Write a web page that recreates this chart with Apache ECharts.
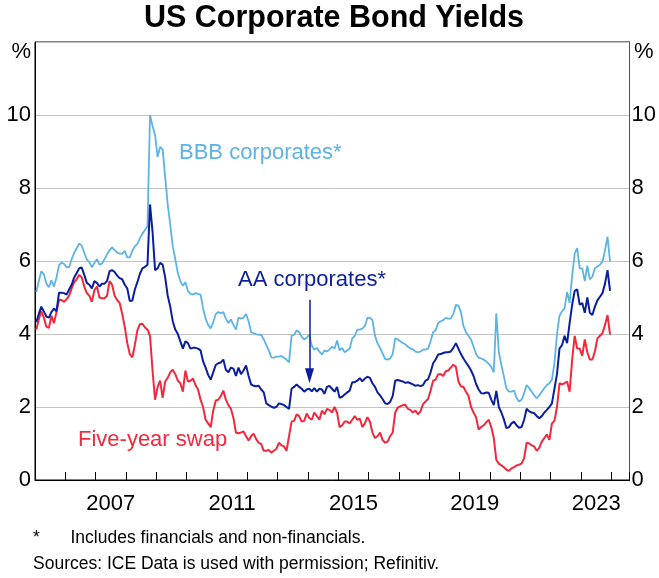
<!DOCTYPE html>
<html>
<head>
<meta charset="utf-8">
<script src="https://cdn.jsdelivr.net/npm/echarts@6/dist/echarts.min.js"></script>
<style>
html,body{margin:0;padding:0;background:#fff;}
#chart{width:659px;height:578px;}
</style>
</head>
<body>
<div id="chart"></div>
<script>
// Monthly data, Jan 2005 - Dec 2023 (per cent)
const startYear = 2005;
const bbbYields = [
 5.15,5.45,5.72,5.64,5.38,5.28,5.47,5.30,5.55,5.88,5.96,5.92,
 5.83,5.83,6.05,6.22,6.35,6.48,6.42,6.22,6.04,5.97,5.83,5.95,
 6.05,5.90,5.93,6.05,6.18,6.30,6.37,6.30,6.23,6.20,6.20,6.28,
 6.10,6.10,6.28,6.40,6.47,6.62,6.75,6.85,6.95,10.00,9.70,9.45,
 8.85,9.13,9.05,8.30,7.55,7.00,6.40,6.05,5.67,5.45,5.32,5.42,
 5.18,5.10,5.08,5.12,5.10,5.08,4.70,4.42,4.25,4.15,4.32,4.55,
 4.60,4.57,4.60,4.42,4.30,4.40,4.25,4.12,4.45,4.42,4.45,4.55,
 4.35,4.05,4.02,3.99,3.98,3.98,3.85,3.70,3.55,3.36,3.35,3.38,
 3.38,3.40,3.35,3.30,3.22,3.95,3.98,4.10,4.05,3.92,3.85,3.90,
 3.98,3.68,3.57,3.62,3.52,3.44,3.55,3.52,3.58,3.65,3.60,3.82,
 3.55,3.62,3.50,3.55,3.60,3.88,3.95,4.12,4.12,4.15,4.22,4.44,
 4.45,4.38,3.95,3.75,3.62,3.47,3.32,3.30,3.33,3.45,3.88,3.85,
 3.80,3.75,3.72,3.65,3.60,3.58,3.52,3.50,3.52,3.57,3.57,3.60,
 3.80,4.05,4.10,4.30,4.35,4.38,4.44,4.42,4.42,4.55,4.80,4.78,
 4.60,4.22,4.05,3.95,3.85,3.65,3.45,3.35,3.33,3.30,3.25,3.18,
 3.10,2.95,4.57,3.50,3.15,2.84,2.50,2.42,2.42,2.45,2.25,2.15,
 2.20,2.38,2.60,2.52,2.42,2.32,2.24,2.32,2.42,2.52,2.60,2.65,
 2.75,3.20,4.00,4.50,4.62,4.70,5.15,4.85,5.60,6.20,6.35,5.80,
 5.80,5.45,5.87,5.50,5.57,5.80,5.85,5.90,5.98,6.30,6.67,5.98
];
const aaYields = [
 4.32,4.55,4.75,4.62,4.48,4.45,4.60,4.70,4.62,5.13,5.13,5.12,
 5.08,5.22,5.35,5.55,5.67,5.80,5.82,5.62,5.40,5.35,5.25,5.45,
 5.40,5.30,5.38,5.38,5.45,5.72,5.75,5.70,5.60,5.53,5.50,5.35,
 5.25,4.90,4.92,5.22,5.42,5.65,5.80,5.84,5.90,7.55,6.80,5.75,
 5.80,5.95,5.90,5.55,5.05,4.75,4.35,4.12,4.00,3.80,3.60,3.80,
 3.75,3.60,3.62,3.62,3.60,3.55,3.25,3.08,2.88,2.75,2.95,3.15,
 3.20,3.22,3.30,3.02,2.95,3.08,3.05,2.85,3.08,2.90,3.00,3.14,
 2.85,2.62,2.58,2.57,2.58,2.48,2.40,2.10,2.05,2.01,1.98,2.00,
 2.10,2.08,2.05,2.00,1.95,2.50,2.55,2.62,2.55,2.50,2.42,2.48,
 2.50,2.43,2.52,2.42,2.50,2.48,2.36,2.55,2.58,2.50,2.42,2.55,
 2.25,2.28,2.34,2.40,2.45,2.68,2.68,2.72,2.79,2.70,2.78,2.83,
 2.80,2.65,2.55,2.40,2.32,2.22,2.10,2.08,2.14,2.30,2.72,2.74,
 2.72,2.70,2.66,2.68,2.65,2.62,2.58,2.60,2.57,2.60,2.72,2.76,
 2.95,3.20,3.30,3.44,3.45,3.48,3.50,3.50,3.52,3.62,3.75,3.60,
 3.45,3.33,3.22,3.12,3.00,2.85,2.63,2.48,2.38,2.37,2.40,2.39,
 2.20,2.05,2.44,2.00,1.85,1.66,1.42,1.45,1.55,1.60,1.50,1.43,
 1.45,1.65,1.95,1.88,1.85,1.83,1.75,1.69,1.75,1.85,1.92,2.00,
 2.10,2.50,2.90,3.60,3.70,3.95,3.75,4.30,4.80,5.18,5.22,4.80,
 4.85,4.58,5.00,4.58,4.52,4.75,4.92,5.02,5.12,5.38,5.75,5.18
];
const swapYields = [
 4.12,4.40,4.63,4.45,4.20,4.17,4.50,4.30,4.60,4.94,4.93,4.88,
 4.95,5.05,5.25,5.42,5.50,5.62,5.55,5.30,5.12,5.05,4.88,5.20,
 5.30,5.00,4.98,4.98,5.05,5.45,5.35,5.05,4.93,4.85,4.55,4.20,
 3.75,3.45,3.36,3.70,4.10,4.27,4.28,4.18,4.12,3.95,3.00,2.20,
 2.55,2.72,2.25,2.70,2.80,2.95,3.02,2.90,2.72,2.65,2.42,3.00,
 2.70,2.72,2.78,2.60,2.48,2.20,2.00,1.65,1.55,1.45,1.90,2.18,
 2.20,2.30,2.45,2.20,2.05,1.95,1.70,1.30,1.28,1.30,1.33,1.20,
 1.08,1.20,1.27,1.12,1.02,0.98,0.80,0.80,0.82,0.75,0.80,0.85,
 1.02,0.95,0.92,0.80,1.20,1.60,1.62,1.80,1.75,1.60,1.62,1.82,
 1.70,1.65,1.85,1.75,1.65,1.90,1.80,1.95,1.92,1.85,2.00,1.85,
 1.45,1.50,1.60,1.60,1.55,1.65,1.75,1.65,1.68,1.45,1.55,1.72,
 1.60,1.30,1.15,1.20,1.30,1.10,1.02,1.05,1.20,1.30,1.85,1.98,
 2.02,2.05,2.06,1.95,1.92,1.85,1.90,1.80,1.88,2.08,2.15,2.22,
 2.45,2.72,2.75,2.90,2.90,2.85,2.98,3.00,3.08,3.16,3.10,2.70,
 2.57,2.55,2.42,2.30,2.00,1.85,1.72,1.38,1.45,1.50,1.58,1.65,
 1.45,1.15,0.55,0.45,0.40,0.35,0.28,0.25,0.32,0.35,0.40,0.42,
 0.45,0.60,1.02,1.00,0.95,0.92,0.80,0.88,1.05,1.15,1.25,1.10,
 1.55,1.62,2.00,2.65,2.62,2.65,2.70,2.42,3.29,3.95,3.60,3.60,
 3.40,3.85,3.50,3.30,3.30,3.52,3.88,3.95,4.02,4.25,4.52,3.98
];
const yTicks = [0, 2, 4, 6, 8, 10, 12];
const xLabelYears = [2007, 2011, 2015, 2019, 2023];
// Arrow annotation (data coordinates): x in years, y in per cent
const arrowX = 2014.05, arrowFrom = 4.94, arrowTo = 2.65;

const COL_BBB = '#5cb4e6', COL_AA = '#0b1f9e', COL_SWAP = '#f2293d';
const FONT = 'Liberation Sans, Arial, sans-serif';

function monthTime(i) { return startYear + (i + 0.5) / 12; }
function toPairs(arr) { return arr.map((v, i) => [monthTime(i), v]); }

const chart = echarts.init(document.getElementById('chart'), null, {renderer: 'canvas'});
// arrowhead height 15px -> per cent units (plot height 438px for 12 units)
const headLen = 15 * 12 / 438;
const option = {
  animation: false,
  backgroundColor: '#ffffff',
  grid: {left: 35, right: 28, top: 42, bottom: 98, show: true, borderColor: '#000', borderWidth: 1, backgroundColor: 'transparent'},
  xAxis: [
    {type: 'value', min: 2005, max: 2024.6, interval: 1, position: 'bottom',
     axisLine: {show: true, onZero: false, lineStyle: {color: '#000', width: 1}},
     axisTick: {show: true, inside: true, length: 8, lineStyle: {color: '#000', width: 1}},
     axisLabel: {show: false}, splitLine: {show: false}},
    {type: 'value', min: 4010, max: 4049.2, interval: 1, position: 'bottom',
     axisLine: {show: false}, axisTick: {show: false}, splitLine: {show: false},
     axisLabel: {show: true, margin: 13, fontSize: 22, fontFamily: FONT, color: '#000',
       formatter: v => { const y = (v - 1) / 2; return (v % 2 === 1 && xLabelYears.includes(y)) ? String(y) : ''; }}}
  ],
  yAxis: [
    {type: 'value', min: 0, max: 12, interval: 2, position: 'left',
     axisLine: {show: true, lineStyle: {color: '#000', width: 1}}, axisTick: {show: false},
     splitLine: {show: true, lineStyle: {color: '#c4c4c4', width: 1}},
     axisLabel: {margin: 4, fontSize: 22, fontFamily: FONT, color: '#000', formatter: v => (v === 12 ? '' : String(v))}},
    {type: 'value', min: 0, max: 12, interval: 2, position: 'right',
     axisLine: {show: true, lineStyle: {color: '#555', width: 1}}, axisTick: {show: false},
     splitLine: {show: false},
     axisLabel: {margin: 2, fontSize: 22, fontFamily: FONT, color: '#000', formatter: v => (v === 12 ? '' : String(v))}}
  ],
  series: [
    {name: 'BBB corporates', type: 'line', data: toPairs(bbbYields), showSymbol: false, symbol: 'none',
     lineStyle: {color: COL_BBB, width: 1.8}, z: 3, silent: true},
    {name: 'Five-year swap', type: 'line', data: toPairs(swapYields), showSymbol: false, symbol: 'none',
     lineStyle: {color: COL_SWAP, width: 2}, z: 4, silent: true},
    {name: 'AA corporates', type: 'line', data: toPairs(aaYields), showSymbol: false, symbol: 'none',
     lineStyle: {color: COL_AA, width: 2}, z: 5, silent: true,
     markLine: {silent: true, symbol: ['none', 'none'],
       label: {show: false}, lineStyle: {color: COL_AA, width: 1.5, type: 'solid', opacity: 1},
       data: [[{coord: [arrowX, arrowFrom]}, {coord: [arrowX, arrowTo + headLen * 0.6]}]]}},
    {name: 'arrowhead', type: 'scatter', data: [[arrowX, arrowTo + headLen / 2]],
     symbol: 'triangle', symbolRotate: 180, symbolSize: [9, 15],
     itemStyle: {color: COL_AA, opacity: 1}, z: 6, silent: true}
  ],
  graphic: [
    {type: 'text', x: 334, y: 19, style: {text: 'US Corporate Bond Yields', font: 'bold 30.5px ' + FONT, fill: '#000', textAlign: 'center', textVerticalAlign: 'middle'}},
    {type: 'text', x: 31, y: 52, style: {text: '%', font: '22px ' + FONT, fill: '#000', textAlign: 'right', textVerticalAlign: 'middle'}},
    {type: 'text', x: 634, y: 52, style: {text: '%', font: '22px ' + FONT, fill: '#000', textAlign: 'left', textVerticalAlign: 'middle'}},
    {type: 'text', x: 179, y: 153, style: {text: 'BBB corporates*', font: '22px ' + FONT, fill: COL_BBB, textAlign: 'left', textVerticalAlign: 'middle'}},
    {type: 'text', x: 238, y: 280, style: {text: 'AA corporates*', font: '22px ' + FONT, fill: COL_AA, textAlign: 'left', textVerticalAlign: 'middle'}},
    {type: 'text', x: 78, y: 440, style: {text: 'Five-year swap', font: '22px ' + FONT, fill: COL_SWAP, textAlign: 'left', textVerticalAlign: 'middle'}},
    {type: 'text', x: 33, y: 538, style: {text: '*', font: '17.5px ' + FONT, fill: '#000', textAlign: 'left', textVerticalAlign: 'middle'}},
    {type: 'text', x: 70.5, y: 538, style: {text: 'Includes financials and non-financials.', font: '17.5px ' + FONT, fill: '#000', textAlign: 'left', textVerticalAlign: 'middle'}},
    {type: 'text', x: 33, y: 564.5, style: {text: 'Sources: ICE Data is used with permission; Refinitiv.', font: '17.5px ' + FONT, fill: '#000', textAlign: 'left', textVerticalAlign: 'middle'}}
  ]
};
chart.setOption(option);
</script>
</body>
</html>
